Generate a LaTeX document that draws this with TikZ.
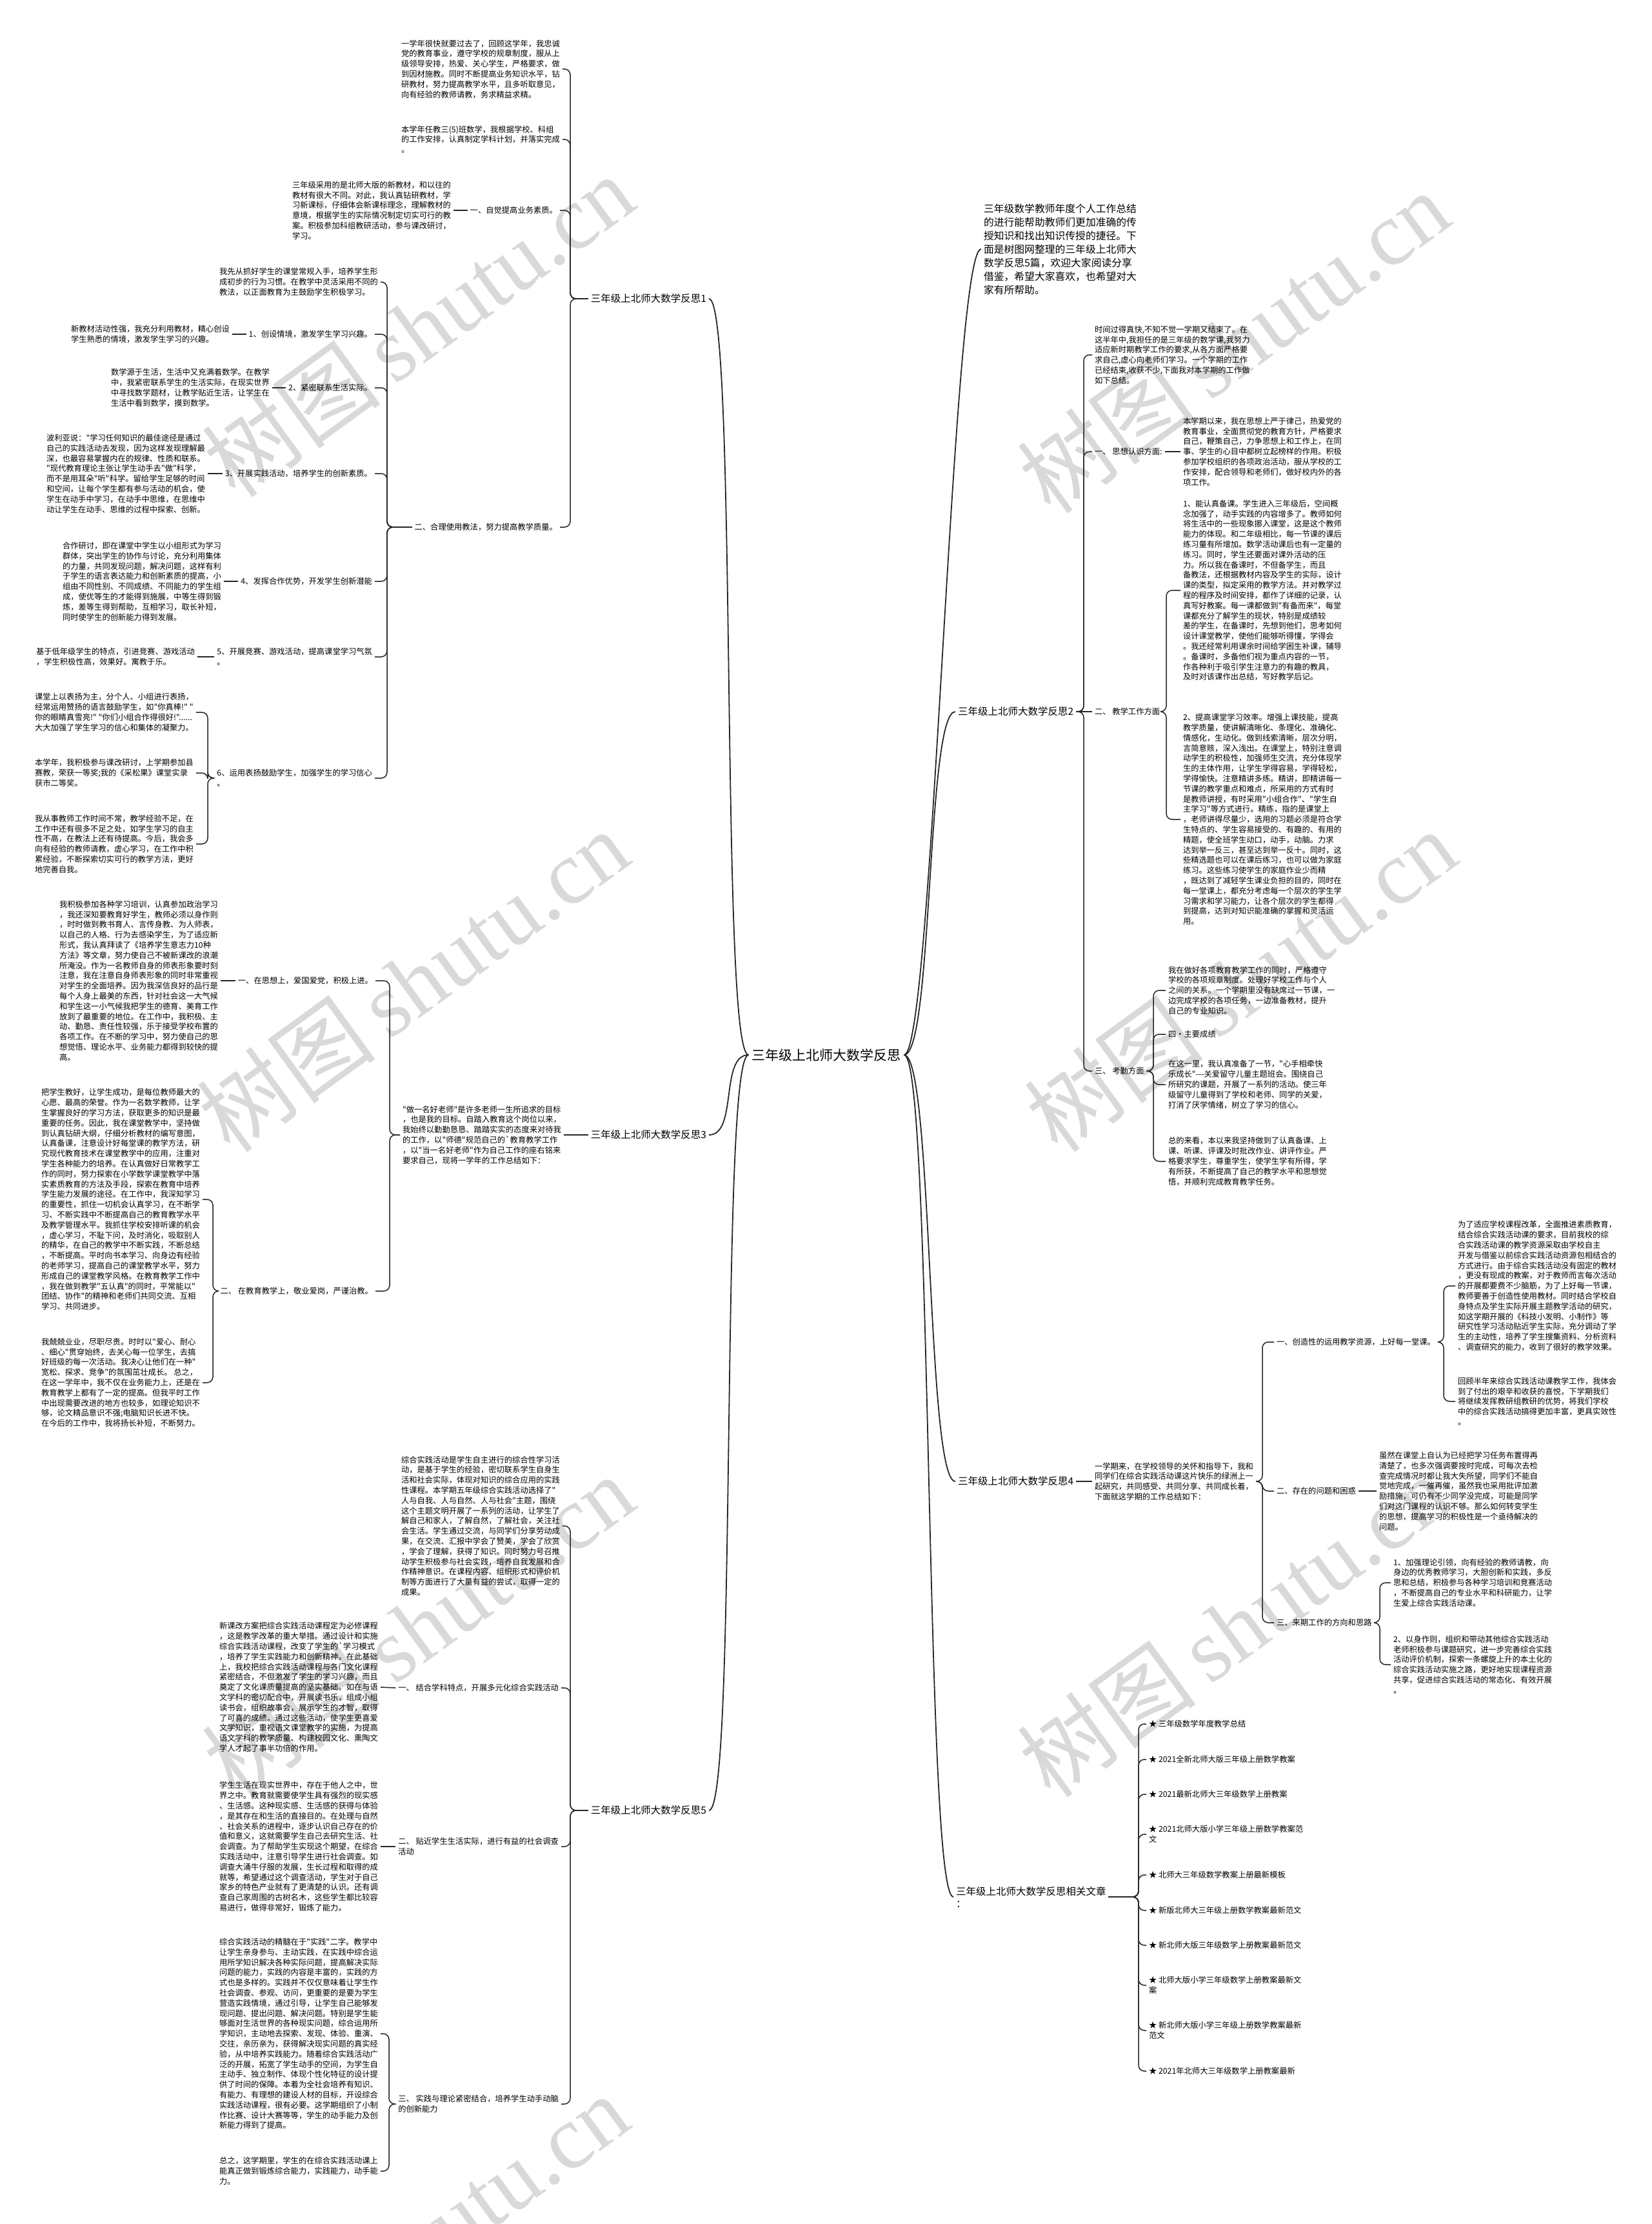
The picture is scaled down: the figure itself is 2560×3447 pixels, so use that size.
\documentclass[tikz,border=0pt]{standalone}
\usepackage{fontspec}
\newfontfamily\cjk{Noto Sans CJK SC}
\newfontfamily\wmlat{Liberation Serif}
\usetikzlibrary{calc}
\tikzset{
  mm/root/.style  ={font=\cjk\fontsize{21}{26}\selectfont, inner sep=0pt, outer sep=5pt},
  mm/branch/.style={font=\cjk\fontsize{15.5}{19}\selectfont, inner sep=0pt, outer sep=4pt, align=left},
  mm/lead/.style  ={font=\cjk\fontsize{15.8}{21}\selectfont, inner sep=0pt, outer sep=4pt, align=left},
  mm/item/.style  ={font=\cjk\fontsize{12.3}{15.8}\selectfont, inner sep=0pt, outer sep=4pt, align=left},
  mm/link/.style  ={line width=1.5pt, rounded corners=9pt, black!85},
  mm/curve/.style ={line width=1.8pt, black!85},
  mm/mark/.style  ={font=\cjk\fontsize{140}{140}\selectfont, text=black!15, rotate=36, inner sep=0pt}
}

\begin{document}
\begin{tikzpicture}[x=1pt,y=-1pt]
  \fill[white] (0,0) rectangle (2560,3447);
  \useasboundingbox (0,0) rectangle (2560,3447);

  % watermark
  \foreach \i/\xpos/\ypos in {1/648/505, 2/640/1520, 3/648/2520, 4/640/3480,
                              5/1912/530, 6/1923/1520, 7/1912/2520} {
    \node[mm/mark] (wm\i) at (\xpos,\ypos) {树图\,{\wmlat shutu.cn}};
  }

  \node[mm/root] (root) at (1281,1635) {三年级上北师大数学反思};

  % ---------- reflection 1 (left, top)
  \node[mm/branch, anchor=east] (r1) at (1099,463) {三年级上北师大数学反思1};
  \coordinate (j1) at (884,463);
  \node[mm/item, anchor=east] (s1a) at (872,107) {一学年很快就要过去了，回顾这学年，我忠诚\\
党的教育事业，遵守学校的规章制度，服从上\\
级领导安排，热爱、关心学生，严格要求，做\\
到因材施教。同时不断提高业务知识水平，钻\\
研教材，努力提高教学水平，且多听取意见，\\
向有经验的教师请教，务求精益求精。};
  \node[mm/item, anchor=east] (s1b) at (872,216) {本学年任教三(5)班数学，我根据学校、科组\\
的工作安排，认真制定学科计划，并落实完成\\
。};
  \node[mm/item, anchor=east] (s1c) at (868,326) {一、自觉提高业务素质。};
  \node[mm/item, anchor=east] (s1ct) at (703,326) {三年级采用的是北师大版的新教材，和以往的\\
教材有很大不同。对此，我认真钻研教材，学\\
习新课标，仔细体会新课标理念，理解教材的\\
意境，根据学生的实际情况制定切实可行的教\\
案。积极参加科组教研活动，参与课改研讨，\\
学习。};
  \node[mm/item, anchor=east] (s1d) at (868,817) {二、合理使用教法，努力提高教学质量。};
  \foreach \c in {s1a,s1b,s1c,s1d} \draw[mm/link] (r1.west) -- (j1) |- (\c.east);
  \draw[mm/link] (s1c.west) -- (s1ct.east);

  \coordinate (j1d) at (600,817);
  \node[mm/item, anchor=east] (d0) at (590,437) {我先从抓好学生的课堂常规入手，培养学生形\\
成初步的行为习惯。在教学中灵活采用不同的\\
教法，以正面教育为主鼓励学生积极学习。};
  \node[mm/item, anchor=east] (d1) at (581,518) {1、创设情境，激发学生学习兴趣。};
  \node[mm/item, anchor=east] (d1t) at (360,518) {新教材活动性强，我充分利用教材，精心创设\\
学生熟悉的情境，激发学生学习的兴趣。};
  \node[mm/item, anchor=east] (d2) at (581,601) {2、紧密联系生活实际。};
  \node[mm/item, anchor=east] (d2t) at (422,601) {数学源于生活，生活中又充满着数学。在教学\\
中，我紧密联系学生的生活实际，在现实世界\\
中寻找数学题材，让教学贴近生活，让学生在\\
生活中看到数学，摸到数学。};
  \node[mm/item, anchor=east] (d3) at (581,734) {3、开展实践活动，培养学生的创新素质。};
  \node[mm/item, anchor=east] (d3t) at (322,734) {波利亚说："学习任何知识的最佳途径是通过\\
自己的实践活动去发现，因为这样发现理解最\\
深，也最容易掌握内在的规律、性质和联系。\\
"现代教育理论主张让学生动手去"做"科学，\\
而不是用耳朵"听"科学。留给学生足够的时间\\
和空间，让每个学生都有参与活动的机会，使\\
学生在动手中学习，在动手中思维，在思维中\\
动让学生在动手、思维的过程中探索、创新。};
  \node[mm/item, anchor=east] (d4) at (581,901) {4、发挥合作优势，开发学生创新潜能};
  \node[mm/item, anchor=east] (d4t) at (347,901) {合作研讨，即在课堂中学生以小组形式为学习\\
群体，突出学生的协作与讨论，充分利用集体\\
的力量，共同发现问题，解决问题，这样有利\\
于学生的语言表达能力和创新素质的提高，小\\
组由不同性别、不同成绩、不同能力的学生组\\
成，使优等生的才能得到施展，中等生得到锻\\
炼，差等生得到帮助，互相学习，取长补短，\\
同时使学生的创新能力得到发展。};
  \node[mm/item, anchor=east] (d5) at (581,1018) {5、开展竞赛、游戏活动，提高课堂学习气氛\\。};
  \node[mm/item, anchor=east] (d5t) at (306,1018) {基于低年级学生的特点，引进竞赛、游戏活动\\
，学生积极性高，效果好。寓教于乐。};
  \node[mm/item, anchor=east] (d6) at (581,1206) {6、运用表扬鼓励学生，加强学生的学习信心\\。};
  \foreach \c in {d0,d1,d2,d3,d4,d5,d6} \draw[mm/link] (s1d.west) -- (j1d) |- (\c.east);
  \foreach \a/\b in {d1/d1t,d2/d2t,d3/d3t,d4/d4t,d5/d5t} \draw[mm/link] (\a.west) -- (\b.east);

  \coordinate (j1d6) at (322,1206);
  \node[mm/item, anchor=east] (d6a) at (304,1104) {课堂上以表扬为主，分个人、小组进行表扬，\\
经常运用赞扬的语言鼓励学生，如"你真棒!" "\\
你的眼睛真雪亮!" "你们小组合作得很好!"......\\
大大加强了学生学习的信心和集体的凝聚力。};
  \node[mm/item, anchor=east] (d6b) at (304,1198) {本学年，我积极参与课改研讨，上学期参加县\\
赛教，荣获一等奖;我的《采松果》课堂实录\\
获市二等奖。};
  \node[mm/item, anchor=east] (d6c) at (304,1308) {我从事教师工作时间不常，教学经验不足，在\\
工作中还有很多不足之处，如学生学习的自主\\
性不高，在教法上还有待提高。今后，我会多\\
向有经验的教师请教，虚心学习，在工作中积\\
累经验，不断探索切实可行的教学方法，更好\\
地完善自我。};
  \foreach \c in {d6a,d6b,d6c} \draw[mm/link] (d6.west) -- (j1d6) |- (\c.east);

  % ---------- reflection 3 (left, middle)
  \node[mm/branch, anchor=east] (r3) at (1099,1759) {三年级上北师大数学反思3};
  \node[mm/item, anchor=east] (s3) at (874,1759) {"做一名好老师"是许多老师一生所追求的目标\\
，也是我的目标。自踏入教育这个岗位以来，\\
我始终以勤勤恳恳、踏踏实实的态度来对待我\\
的工作，以"师德"规范自己的`教育教学工作\\
，以"当一名好老师"作为自己工作的座右铭来\\
要求自己，现将一学年的工作总结如下：};
  \draw[mm/link] (r3.west) -- (s3.east);
  \coordinate (j3) at (604,1759);
  \node[mm/item, anchor=east] (s3a) at (582,1520) {一、在思想上，爱国爱党，积极上进。};
  \node[mm/item, anchor=east] (s3at) at (342,1520) {我积极参加各种学习培训，认真参加政治学习\\
，我还深知要教育好学生，教师必须以身作则\\
，时时做到教书育人、言传身教、为人师表，\\
以自己的人格、行为去感染学生，为了适应新\\
形式，我认真拜读了《培养学生意志力10种\\
方法》等文章，努力使自己不被新课改的浪潮\\
所淹没。作为一名教师自身的师表形象要时刻\\
注意，我在注意自身师表形象的同时非常重视\\
对学生的全面培养。因为我深信良好的品行是\\
每个人身上最美的东西，针对社会这一大气候\\
和学生这一小气候我把学生的德育、美育工作\\
放到了最重要的地位。在工作中，我积极、主\\
动、勤恳、责任性较强，乐于接受学校布置的\\
各项工作。在不断的学习中，努力使自己的思\\
想觉悟、理论水平、业务能力都得到较快的提\\
高。};
  \node[mm/item, anchor=east] (s3b) at (582,2001) {二、 在教育教学上，敬业爱岗，严谨治教。};
  \foreach \c in {s3a,s3b} \draw[mm/link] (s3.west) -- (j3) |- (\c.east);
  \draw[mm/link] (s3a.west) -- (s3at.east);
  \coordinate (j3b) at (330,2001);
  \node[mm/item, anchor=east] (s3b1) at (314,1859) {把学生教好，让学生成功，是每位教师最大的\\
心愿、最高的荣誉。作为一名数学教师，让学\\
生掌握良好的学习方法，获取更多的知识是最\\
重要的任务。因此，我在课堂教学中，坚持做\\
到认真钻研大纲，仔细分析教材的编写意图，\\
认真备课，注意设计好每堂课的教学方法，研\\
究现代教育技术在课堂教学中的应用，注重对\\
学生各种能力的培养。在认真做好日常教学工\\
作的同时，努力探索在小学数学课堂教学中落\\
实素质教育的方法及手段，探索在教育中培养\\
学生能力发展的途径。在工作中，我深知学习\\
的重要性，抓住一切机会认真学习，在不断学\\
习、不断实践中不断提高自己的教育教学水平\\
及教学管理水平。我抓住学校安排听课的机会\\
，虚心学习，不耻下问，及时消化，吸取别人\\
的精华，在自己的教学中不断实践，不断总结\\
，不断提高。平时向书本学习、向身边有经验\\
的老师学习，提高自己的课堂教学水平，努力\\
形成自己的课堂教学风格。在教育教学工作中\\
，我在做到教学"五认真"的同时，平常能以"\\
团结、协作"的精神和老师们共同交流、互相\\
学习、共同进步。};
  \node[mm/item, anchor=east] (s3b2) at (314,2143) {我兢兢业业，尽职尽责。时时以"爱心、耐心\\
、细心"贯穿始终，去关心每一位学生，去搞\\
好班级的每一次活动。我决心让他们在一种"\\
宽松、探求、竞争"的氛围茁壮成长。 总之，\\
在这一学年中，我不仅在业务能力上，还是在\\
教育教学上都有了一定的提高。但我平时工作\\
中出现需要改进的地方也较多，如理论知识不\\
够，论文精品意识不强;电脑知识长进不快。\\
在今后的工作中，我将扬长补短，不断努力。};
  \foreach \c in {s3b1,s3b2} \draw[mm/link] (s3b.west) -- (j3b) |- (\c.east);

  % ---------- reflection 5 (left, bottom)
  \node[mm/branch, anchor=east] (r5) at (1099,2806) {三年级上北师大数学反思5};
  \coordinate (j5) at (884,2806);
  \node[mm/item, anchor=east] (s5) at (872,2365) {综合实践活动是学生自主进行的综合性学习活\\
动，是基于学生的经验，密切联系学生自身生\\
活和社会实际，体现对知识的综合应用的实践\\
性课程。本学期五年级综合实践活动选择了"\\
人与自我、人与自然、人与社会"主题，围绕\\
这个主题文明开展了一系列的活动，让学生了\\
解自己和家人，了解自然，了解社会，关注社\\
会生活。学生通过交流，与同学们分享劳动成\\
果，在交流、汇报中学会了赞美，学会了欣赏\\
，学会了理解，获得了知识。同时努力号召推\\
动学生积极参与社会实践，培养自我发展和合\\
作精神意识。在课程内容、组织形式和评价机\\
制等方面进行了大量有益的尝试，取得一定的\\
成果。};
  \node[mm/item, anchor=east] (s5a) at (870,2616) {一、 结合学科特点，开展多元化综合实践活动};
  \node[mm/item, anchor=east] (s5at) at (590,2615) {新课改方案把综合实践活动课程定为必修课程\\
，这是教学改革的重大举措。通过设计和实施\\
综合实践活动课程，改变了学生的`学习模式\\
，培养了学生实践能力和创新精神。在此基础\\
上，我校把综合实践活动课程与各门文化课程\\
紧密结合，不但激发了学生的学习兴趣，而且\\
奠定了文化课质量提高的坚实基础。如在与语\\
文学科的密切配合中，开展读书乐，组成小组\\
读书会，组织故事会，展示学生的才智，取得\\
了可喜的成绩。通过这些活动，使学生更喜爱\\
文学知识，重视语文课堂教学的实施，为提高\\
语文学科的教学质量、构建校园文化、熏陶文\\
学人才起了事半功倍的作用。};
  \node[mm/item, anchor=east] (s5b) at (870,2862) {二、 贴近学生生活实际，进行有益的社会调查\\活动};
  \node[mm/item, anchor=east] (s5bt) at (590,2862) {学生生活在现实世界中，存在于他人之中，世\\
界之中。教育就需要使学生具有强烈的现实感\\
、生活感。这种现实感、生活感的获得与体验\\
，是其存在和生活的直接目的。在处理与自然\\
、社会关系的进程中，逐步认识自己存在的价\\
值和意义，这就需要学生自己去研究生活、社\\
会调查。为了帮助学生实现这个期望，在综合\\
实践活动中，注意引导学生进行社会调查。如\\
调查大涌牛仔服的发展，生长过程和取得的成\\
就等，希望通过这个调查活动，学生对于自己\\
家乡的特色产业就有了更清楚的认识。还有调\\
查自己家周围的古树名木，这些学生都比较容\\
易进行，做得非常好，锻炼了能力。};
  \node[mm/item, anchor=east] (s5c) at (870,3261) {三、 实践与理论紧密结合，培养学生动手动脑\\的创新能力};
  \foreach \c in {s5,s5a,s5b,s5c} \draw[mm/link] (r5.west) -- (j5) |- (\c.east);
  \foreach \a/\b in {s5a/s5at,s5b/s5bt} \draw[mm/link] (\a.west) -- (\b.east);
  \coordinate (j5c) at (603,3261);
  \node[mm/item, anchor=east] (s5c1) at (590,3152) {综合实践活动的精髓在于"实践"二字。教学中\\
让学生亲身参与、主动实践，在实践中综合运\\
用所学知识解决各种实际问题，提高解决实际\\
问题的能力，实践的内容是丰富的，实践的方\\
式也是多样的。实践并不仅仅意味着让学生作\\
社会调查、参观、访问，更重要的是要为学生\\
营造实践情境，通过引导，让学生自己能够发\\
现问题、提出问题、解决问题。特别是学生能\\
够面对生活世界的各种现实问题，综合运用所\\
学知识，主动地去探索、发现、体验、重演、\\
交往，亲历亲为，获得解决现实问题的真实经\\
验，从中培养实践能力。随着综合实践活动广\\
泛的开展，拓宽了学生动手的空间，为学生自\\
主动手、独立制作、体现个性化特征的设计提\\
供了时间的保障。本着为全社会培养有知识、\\
有能力、有理想的建设人材的目标，开设综合\\
实践活动课程，很有必要。这学期组织了小制\\
作比赛、设计大赛等等，学生的动手能力及创\\
新能力得到了提高。};
  \node[mm/item, anchor=east] (s5c2) at (590,3365) {总之，这学期里，学生的在综合实践活动课上\\
能真正做到锻炼综合能力，实践能力，动手能\\
力。};
  \foreach \c in {s5c1,s5c2} \draw[mm/link] (s5c.west) -- (j5c) |- (\c.east);

  % ---------- lead text (right, top)
  \node[mm/lead, anchor=west] (lead) at (1521,386) {三年级数学教师年度个人工作总结\\
的进行能帮助教师们更加准确的传\\
授知识和找出知识传授的捷径。下\\
面是树图网整理的三年级上北师大\\
数学反思5篇，欢迎大家阅读分享\\
借鉴，希望大家喜欢，也希望对大\\
家有所帮助。};

  % ---------- reflection 2 (right)
  \node[mm/branch, anchor=west] (r2) at (1481,1103) {三年级上北师大数学反思2};
  \coordinate (j2) at (1680,1103);
  \node[mm/item, anchor=west] (s2) at (1693,550) {时间过得真快,不知不觉一学期又结束了。在\\
这半年中,我担任的是三年级的数学课,我努力\\
适应新时期教学工作的要求,从各方面严格要\\
求自己,虚心向老师们学习。一个学期的工作\\
已经结束,收获不少,下面我对本学期的工作做\\
如下总结。};
  \node[mm/item, anchor=west] (s2a) at (1693,700) {一、 思想认识方面:};
  \node[mm/item, anchor=west] (s2at) at (1830,700) {本学期以来，我在思想上严于律己，热爱党的\\
教育事业，全面贯彻党的教育方针，严格要求\\
自己，鞭策自己，力争思想上和工作上，在同\\
事、学生的心目中都树立起榜样的作用。积极\\
参加学校组织的各项政治活动，服从学校的工\\
作安排，配合领导和老师们，做好校内外的各\\
项工作。};
  \node[mm/item, anchor=west] (s2b) at (1693,1103) {二、 教学工作方面};
  \node[mm/item, anchor=west] (s2c) at (1693,1660) {三、 考勤方面};
  \foreach \c in {s2,s2a,s2c} \draw[mm/link] (r2.east) -- (j2) |- (\c.west);
  \draw[mm/link] (r2.east) -- (s2b.west);
  \draw[mm/link] (s2a.east) -- (s2at.west);

  \coordinate (j2b) at (1808,1103);
  \node[mm/item, anchor=west] (s2b1) at (1830,915) {1、能认真备课。学生进入三年级后，空间概\\
念加强了，动手实践的内容增多了。教师如何\\
将生活中的一些现象挪入课堂，这是这个教师\\
能力的体现。和二年级相比，每一节课的课后\\
练习量有所增加。数学活动课后也有一定量的\\
练习。同时，学生还要面对课外活动的压\\
力。所以我在备课时，不但备学生，而且\\
备教法，还根据教材内容及学生的实际，设计\\
课的类型，拟定采用的教学方法。并对教学过\\
程的程序及时间安排，都作了详细的记录，认\\
真写好教案。每一课都做到"有备而来"，每堂\\
课都充分了解学生的现状，特别是成绩较\\
差的学生，在备课时，先想到他们，思考如何\\
设计课堂教学，使他们能够听得懂，学得会\\
。我还经常利用课余时间给学困生补课，辅导\\
。备课时，多备他们视为重点内容的一节，\\
作各种利于吸引学生注意力的有趣的教具，\\
及时对该课作出总结，写好教学后记。};
  \node[mm/item, anchor=west] (s2b2) at (1830,1270) {2、提高课堂学习效率。增强上课技能，提高\\
教学质量，使讲解清晰化、条理化、准确化、\\
情感化，生动化。做到线索清晰，层次分明，\\
言简意赅，深入浅出。在课堂上，特别注意调\\
动学生的积极性，加强师生交流，充分体现学\\
生的主体作用，让学生学得容易，学得轻松，\\
学得愉快。注意精讲多练。精讲，即精讲每一\\
节课的教学重点和难点，所采用的方式有时\\
是教师讲授，有时采用"小组合作"、"学生自\\
主学习"等方式进行。精练，指的是课堂上\\
，老师讲得尽量少，选用的习题必须是符合学\\
生特点的、学生容易接受的、有趣的、有用的\\
精题，使全班学生动口，动手，动脑。力求\\
达到举一反三，甚至达到举一反十。同时，这\\
些精选题也可以在课后练习，也可以做为家庭\\
练习。这些练习使学生的家庭作业少而精\\
，既达到了减轻学生课业负担的目的，同时在\\
每一堂课上，都充分考虑每一个层次的学生学\\
习需求和学习能力，让各个层次的学生都得\\
到提高，达到对知识能准确的掌握和灵活运\\
用。};
  \foreach \c in {s2b1,s2b2} \draw[mm/link] (s2b.east) -- (j2b) |- (\c.west);

  \coordinate (j2c) at (1788,1660);
  \node[mm/item, anchor=west] (s2c1) at (1807,1535) {我在做好各项教育教学工作的同时，严格遵守\\
学校的各项规章制度。处理好学校工作与个人\\
之间的关系。一个学期里没有缺席过一节课，一\\
边完成学校的各项任务，一边准备教材，提升\\
自己的专业知识。};
  \node[mm/item, anchor=west] (s2c2) at (1807,1603) {四·主要成绩};
  \node[mm/item, anchor=west] (s2c3) at (1807,1681) {在这一里，我认真准备了一节，"心手相牵快\\
乐成长"---关爱留守儿童主题班会。围绕自己\\
所研究的课题，开展了一系列的活动。使三年\\
级留守儿童得到了学校和老师、同学的关爱，\\
打消了厌学情绪，树立了学习的信心。};
  \node[mm/item, anchor=west] (s2c4) at (1807,1800) {总的来看，本以来我坚持做到了认真备课、上\\
课、听课、评课及时批改作业、讲评作业。严\\
格要求学生，尊重学生，使学生学有所得，学\\
有所获，不断提高了自己的教学水平和思想觉\\
悟，并顺利完成教育教学任务。};
  \foreach \c in {s2c1,s2c2,s2c3,s2c4} \draw[mm/link] (s2c.east) -- (j2c) |- (\c.west);

  % ---------- reflection 4 (right)
  \node[mm/branch, anchor=west] (r4) at (1481,2296) {三年级上北师大数学反思4};
  \node[mm/item, anchor=west] (s4) at (1693,2296) {一学期来，在学校领导的关怀和指导下，我和\\
同学们在综合实践活动课这片快乐的绿洲上一\\
起研究，共同感受、共同分享、共同成长着，\\
下面就这学期的工作总结如下：};
  \draw[mm/link] (r4.east) -- (s4.west);
  \coordinate (j4) at (1957,2296);
  \node[mm/item, anchor=west] (s4a) at (1975,2080) {一、创造性的运用教学资源，上好每一堂课。};
  \node[mm/item, anchor=west] (s4b) at (1975,2311) {二、存在的问题和困惑};
  \node[mm/item, anchor=west] (s4c) at (1975,2515) {三、来期工作的方向和思路};
  \foreach \c in {s4a,s4b,s4c} \draw[mm/link] (s4.east) -- (j4) |- (\c.west);

  \coordinate (j4a) at (2238,2080);
  \node[mm/item, anchor=west] (s4a1) at (2256,1993) {为了适应学校课程改革，全面推进素质教育，\\
结合综合实践活动课的要求，目前我校的综\\
合实践活动课的教学资源采取由学校自主\\
开发与借鉴以前综合实践活动资源包相结合的\\
方式进行。由于综合实践活动没有固定的教材\\
，更没有现成的教案，对于教师而言每次活动\\
的开展都要费不少脑筋，为了上好每一节课，\\
教师要善于创造性使用教材。同时结合学校自\\
身特点及学生实际开展主题教学活动的研究，\\
如这学期开展的《科技小发明、小制作》等\\
研究性学习活动贴近学生实际，充分调动了学\\
生的主动性，培养了学生搜集资料、分析资料\\
、调查研究的能力，收到了很好的教学效果。};
  \node[mm/item, anchor=west] (s4a2) at (2256,2172) {回顾半年来综合实践活动课教学工作，我体会\\
到了付出的艰辛和收获的喜悦，下学期我们\\
将继续发挥教研组教研的优势，将我们学校\\
中的综合实践活动搞得更加丰富，更具实效性\\
。};
  \foreach \c in {s4a1,s4a2} \draw[mm/link] (s4a.east) -- (j4a) |- (\c.west);

  \node[mm/item, anchor=west] (s4bt) at (2134,2311) {虽然在课堂上自认为已经把学习任务布置得再\\
清楚了，也多次强调要按时完成，可每次去检\\
查完成情况时都让我大失所望，同学们不能自\\
觉地完成，一催再催，虽然我也采用批评加激\\
励措施，可仍有不少同学没完成，可能是同学\\
们对这门课程的认识不够。那么如何转变学生\\
的思想，提高学习的积极性是一个亟待解决的\\
问题。};
  \draw[mm/link] (s4b.east) -- (s4bt.west);

  \coordinate (j4c) at (2139,2515);
  \node[mm/item, anchor=west] (s4c1) at (2156,2453) {1、加强理论引领，向有经验的教师请教，向\\
身边的优秀教师学习，大胆创新和实践，多反\\
思和总结，积极参与各种学习培训和竞赛活动\\
，不断提高自己的专业水平和科研能力，让学\\
生爱上综合实践活动课。};
  \node[mm/item, anchor=west] (s4c2) at (2156,2580) {2、以身作则，组织和带动其他综合实践活动\\
老师积极参与课题研究，进一步完善综合实践\\
活动评价机制，探索一条螺旋上升的本土化的\\
综合实践活动实施之路，更好地实现课程资源\\
共享，促进综合实践活动的常态化、有效开展\\
。};
  \foreach \c in {s4c1,s4c2} \draw[mm/link] (s4c.east) -- (j4c) |- (\c.west);

  % ---------- related articles
  \node[mm/branch, anchor=west] (r6) at (1478,2940) {三年级上北师大数学反思相关文章\\：};
  \coordinate (j6) at (1765,2940);
  \foreach \i/\ypos/\title in {
      1/2672/{★ 三年级数学年度教学总结},
      2/2727/{★ 2021全新北师大版三年级上册数学教案},
      3/2781/{★ 2021最新北师大三年级数学上册教案},
      4/2843/{★ 2021北师大版小学三年级上册数学教案范\\文},
      5/2906/{★ 北师大三年级数学教案上册最新模板},
      6/2961/{★ 新版北师大三年级上册数学教案最新范文},
      7/3015/{★ 新北师大版三年级数学上册教案最新范文},
      8/3077/{★ 北师大版小学三年级数学上册教案最新文\\案},
      9/3147/{★ 新北师大版小学三年级上册数学教案最新\\范文},
      10/3210/{★ 2021年北师大三年级数学上册教案最新}} {
    \node[mm/item, anchor=west] (rel\i) at (1777,\ypos) {\title};
    \draw[mm/link] (r6.east) -- (j6) |- (rel\i.west);
  }

  % ---------- root connectors
  \foreach \b in {r1,r3,r5}
    \draw[mm/curve] (root.west) .. controls +(-45,0) and +(45,0) .. (\b.east);
  \foreach \b in {lead,r2,r4,r6}
    \draw[mm/curve] (root.east) .. controls +(45,0) and +(-45,0) .. (\b.west);
\end{tikzpicture}
\end{document}
